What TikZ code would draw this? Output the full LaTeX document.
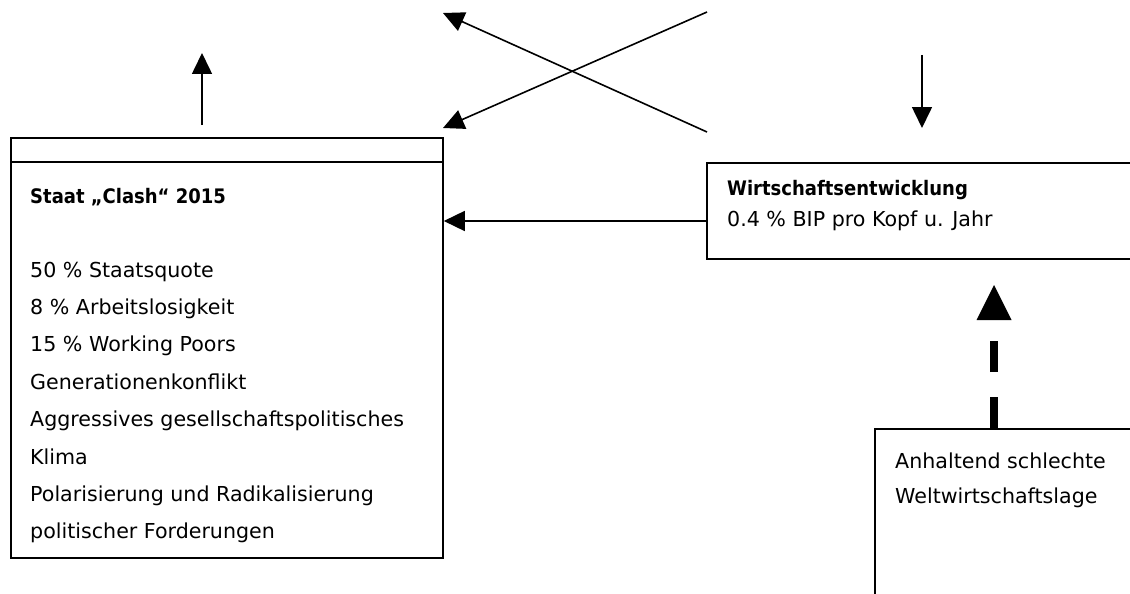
\documentclass[tikz,border=0pt]{standalone}
\usepackage{fontspec}
\setmainfont{DejaVu Sans}
\newfontfamily\titlefont[BoldFont={DejaVu Sans Condensed Bold}]{DejaVu Sans Condensed}
\usetikzlibrary{arrows.meta}
\tikzset{
  box/.style={draw, line width=1.8pt, rectangle, inner sep=0pt, anchor=north west},
  txt/.style={anchor=base west, inner sep=0pt, font=\fontsize{20.6}{24}\selectfont},
  ttl/.style={txt, font=\titlefont\fontsize{20}{24}\selectfont\bfseries},
  conn/.style={line width=1.6pt, -{Triangle[length=21pt,width=20pt]}},
  dashconn/.style={line width=8pt, dash pattern=on 31pt off 25pt, -{Triangle[length=35pt,width=35pt,line width=0pt]}}
}
\begin{document}
\begin{tikzpicture}[x=1pt,y=-1pt]
\useasboundingbox (0,0) rectangle (1130,594);
\clip (0,0) rectangle (1130,594);
% boxes
\node[box, minimum width=432pt, minimum height=420pt] (staat) at (10,137) {};
\draw[line width=1.8pt] (staat.north west) ++(0,25) coordinate (divl) -- (divl -| staat.east) coordinate (divr);
\node[box, minimum width=440pt, minimum height=96pt] (wirt) at (706,162) {};
\node[box, minimum width=270pt, minimum height=180pt] (welt) at (874,428) {};
% texts left
\node[ttl] (t0) at (30,203) {Staat „Clash“ 2015};
\node[txt] (t1) at (30,277) {50 \% Staatsquote};
\node[txt] (t2) at (30,314.4) {8 \% Arbeitslosigkeit};
\node[txt] (t3) at (30,351.8) {15 \% Working Poors};
\node[txt] (t4) at (30,389.2) {Generationenkonflikt};
\node[txt] (t5) at (30,426.6) {Aggressives gesellschaftspolitisches};
\node[txt] (t6) at (30,464) {Klima};
\node[txt] (t7) at (30,501.4) {Polarisierung und Radikalisierung};
\node[txt] (t8) at (30,538.8) {politischer Forderungen};
% texts right
\node[ttl] (w0) at (727,195) {Wirtschaftsentwicklung};
\node[txt] (w1) at (727,226) {0.4 \% BIP pro Kopf u. Jahr};
\node[txt] (a0) at (895,468) {Anhaltend schlechte};
\node[txt] (a1) at (895,503) {Weltwirtschaftslage};
% free ends
\coordinate (upS) at (202,125);
\coordinate (upE) at (202,53);
\coordinate (dnS) at (922,55);
\coordinate (dnE) at (922,128);
\coordinate (d1S) at (707,12);
\coordinate (d1E) at (443,128);
\coordinate (d2S) at (707,132);
\coordinate (d2E) at (443,13);
\coordinate (dashE) at (994,285);
% connectors
\draw[conn] (upS) -- (upE);
\draw[conn] (dnS) -- (dnE);
\draw[conn] (d1S) -- (d1E);
\draw[conn] (d2S) -- (d2E);
\draw[conn] (wirt.west |- 0,221) -- (staat.east |- 0,221);
\draw[dashconn] (welt.north -| dashE) -- (dashE);
\end{tikzpicture}
\end{document}
